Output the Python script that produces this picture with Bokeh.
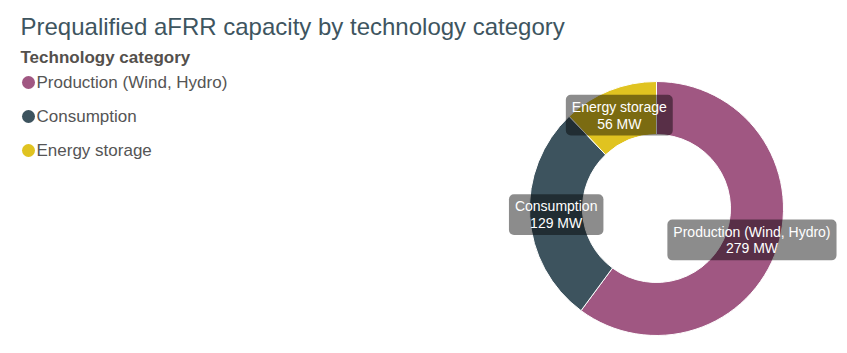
import math
from bokeh.plotting import figure
from bokeh.models import Range1d, ColumnDataSource, Label
from bokeh.core.properties import value
from bokeh.embed import file_html
from bokeh.resources import INLINE

# ---- data ----
categories = ["Production (Wind, Hydro)", "Consumption", "Energy storage"]
capacity_mw = [279, 129, 56]
colors = ["#A05782", "#3D535E", "#E0C320"]
title_text = "Prequalified aFRR capacity by technology category"
legend_title = "Technology category"

# ---- layout (pixel space) ----
W, H = 847, 353
cx, cy = 656, H - 208
r_out, r_in = 127, 74
font = "Liberation Sans"

p = figure(width=W, height=H, output_backend="svg", toolbar_location=None,
           x_range=Range1d(0, W), y_range=Range1d(0, H), min_border=0)
p.axis.visible = False
p.grid.visible = False
p.outline_line_color = None
p.background_fill_color = "white"

total = sum(capacity_mw)
starts, ends, lx, ly, labels = [], [], [], [], []
cum = 0.0
for cat, v in zip(categories, capacity_mw):
    a0 = math.pi / 2 - 2 * math.pi * cum / total
    cum += v
    a1 = math.pi / 2 - 2 * math.pi * cum / total
    starts.append(a0)
    ends.append(a1)
    mid = (a0 + a1) / 2
    rm = (r_in + r_out) / 2
    lx.append(cx + rm * math.cos(mid))
    ly.append(cy + rm * math.sin(mid))
    labels.append(f"{cat}\n{v} MW")

src = ColumnDataSource(dict(start=starts, end=ends, color=colors,
                            lx=lx, ly=ly, label=labels))
p.annular_wedge(x=cx, y=cy, inner_radius=r_in, outer_radius=r_out,
                start_angle="start", end_angle="end", direction="clock",
                fill_color="color", line_color="white", line_width=1, source=src)

p.text(x="lx", y="ly", text="label", source=src,
       text_font=value(font), text_font_size="14px", text_color="white",
       text_align="center", text_baseline="middle", text_line_height=1.05,
       background_fill_color="black", background_fill_alpha=0.45,
       border_radius=5, padding=dict(left=6, right=6, top=4, bottom=4))

# ---- title ----
p.add_layout(Label(x=20, y=H - 26, text=title_text, text_font=font,
                   text_font_size="24px", text_color="#3E555F",
                   text_baseline="middle"))

# ---- legend (manual) ----
p.add_layout(Label(x=20, y=H - 57, text=legend_title, text_font=font,
                   text_font_size="17px", text_font_style="bold",
                   text_color="#54504C", text_baseline="middle"))
leg_y = [H - (82 + 34 * i) for i in range(len(categories))]
leg = ColumnDataSource(dict(x=[28] * len(categories), tx=[36] * len(categories),
                            y=leg_y, color=colors, name=categories))
p.scatter(x="x", y="y", size=13, fill_color="color", line_color=None, source=leg)
p.text(x="tx", y="y", text="name", source=leg, text_font=value(font),
       text_font_size="17px", text_color="#555555", text_baseline="middle")

open("out.html", "w").write(file_html(p, INLINE))
